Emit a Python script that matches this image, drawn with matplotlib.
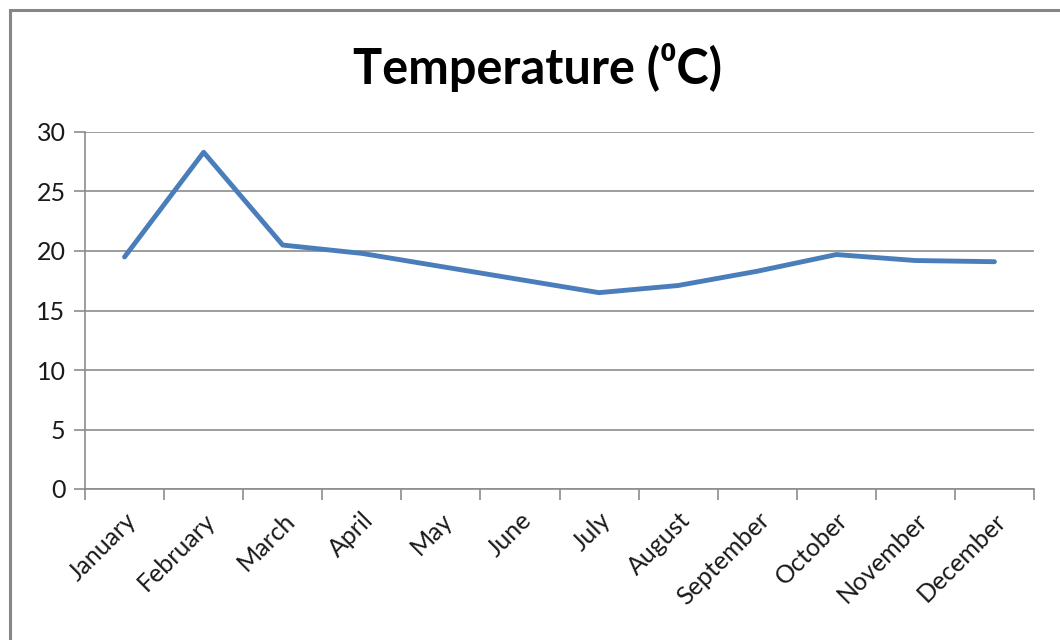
import matplotlib
matplotlib.use("Agg")
import matplotlib.pyplot as plt
from matplotlib.patches import Rectangle

months = ["January", "February", "March", "April", "May", "June", "July",
          "August", "September", "October", "November", "December"]
temps = [19.5, 28.3, 20.5, 19.8, 18.7, 17.6, 16.5, 17.1, 18.3, 19.7, 19.2, 19.1]
yticks = [0, 5, 10, 15, 20, 25, 30]
title = "Temperature (\u2070C)"

plt.rcParams['font.family'] = ['Lato', 'DejaVu Sans']

fig = plt.figure(figsize=(10.6, 6.4), dpi=100)
fig.patch.set_facecolor('white')
W, H = 1060, 640
ax = fig.add_axes([85 / W, 1 - 489 / H, (1034 - 85) / W, (489 - 132) / H])

x = list(range(len(months)))
ax.plot(x, temps, color='#4A7EBB', lw=3.5, solid_capstyle='round', solid_joinstyle='round', zorder=3)

ax.set_xlim(-0.5, len(months) - 0.5)
ax.set_ylim(0, 30)
ax.set_yticks(yticks)
ax.set_yticklabels([str(v) for v in yticks], fontsize=18, color='#1a1a1a')
ax.yaxis.grid(True, color='#8c8c8c', lw=1.2)
ax.set_axisbelow(True)

ax.set_xticks([i - 0.5 for i in range(len(months) + 1)])
ax.set_xticklabels([])
ax.set_xticks(x, minor=True)
ax.set_xticklabels(months, minor=True, rotation=45, ha='right', rotation_mode='anchor',
                   fontsize=18, color='#1a1a1a')
ax.tick_params(axis='x', which='minor', length=0, pad=14)
ax.tick_params(axis='x', which='major', length=8, color='#8c8c8c', width=1.2)
ax.tick_params(axis='y', length=8, color='#8c8c8c', width=1.2, pad=6)

for s in ['top', 'right']:
    ax.spines[s].set_visible(False)
for s in ['left', 'bottom']:
    ax.spines[s].set_color('#8c8c8c')
    ax.spines[s].set_linewidth(1.2)

fig.text(537 / W, 1 - 67 / H, title, ha='center', va='center', fontsize=35,
         fontweight='bold', color='black')

fig.patches.append(Rectangle((9.5 / W, -0.1), 1.2, 1 - 9.5 / H + 0.1, transform=fig.transFigure,
                             fill=False, edgecolor='#868686', lw=2.2, zorder=10))

fig.savefig('out.png', dpi=100, facecolor='white')
